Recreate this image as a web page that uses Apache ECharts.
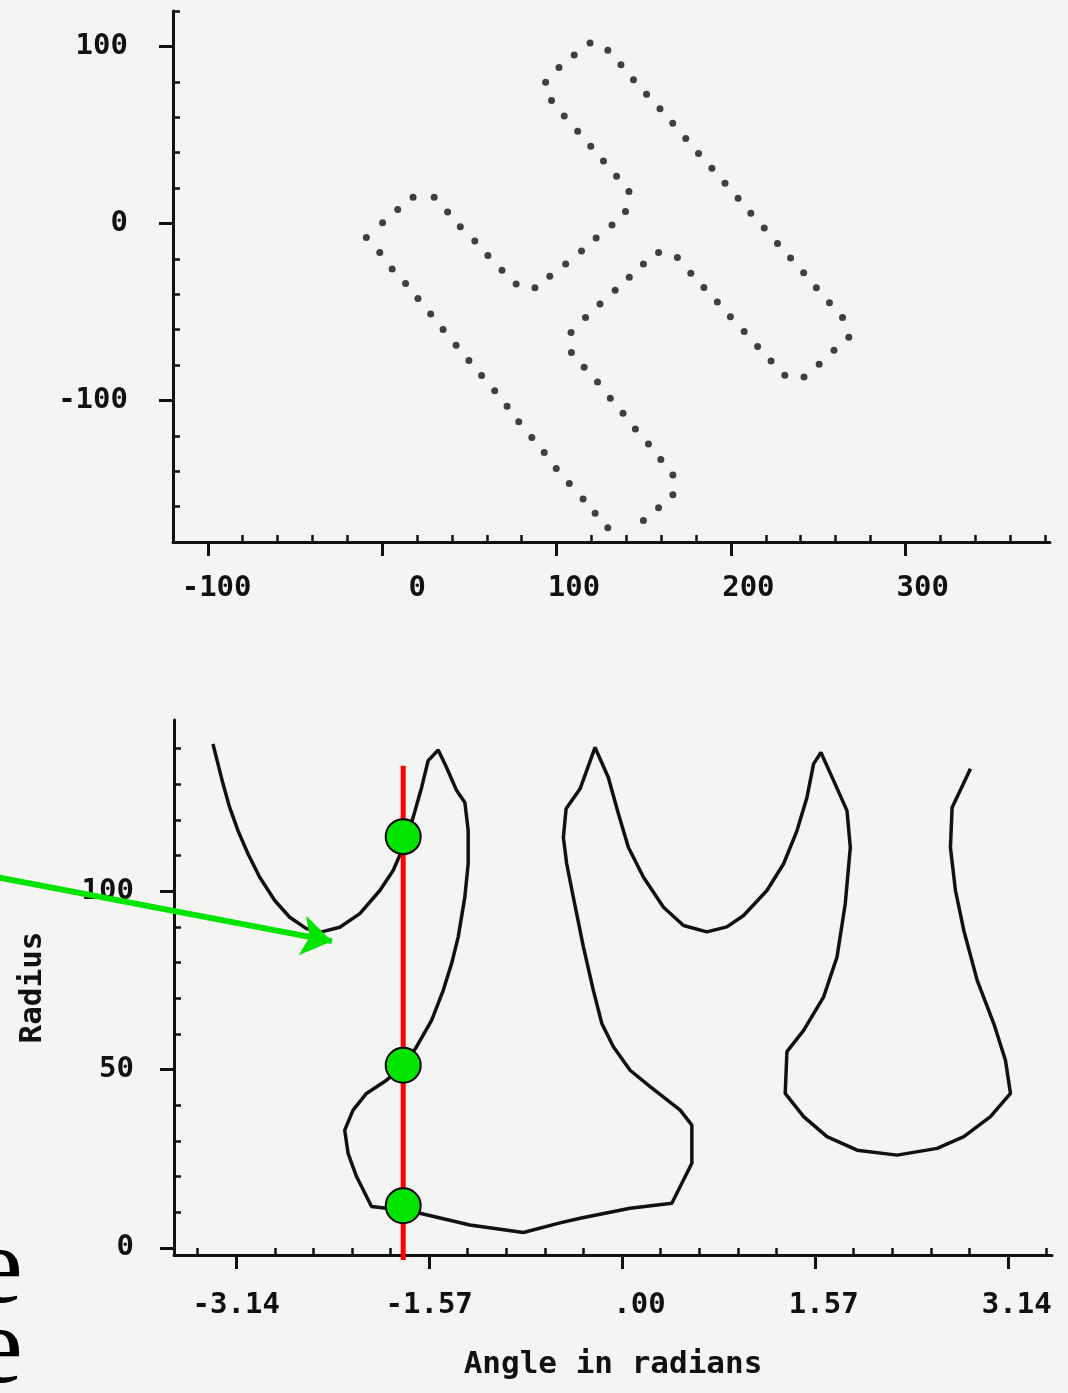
<!DOCTYPE html>
<html>
<head>
<meta charset="utf-8">
<script src="https://cdn.jsdelivr.net/npm/echarts@6/dist/echarts.min.js"></script>
<style>
  html, body { margin: 0; padding: 0; background: #f4f4f2; }
  #chart { width: 1068px; height: 1393px; }
</style>
</head>
<body>
<div id="chart"></div>
<script>
// top plot: dotted outline of the shape (x, y)
const shapeX = [93.7, 101.4, 110.1, 119.2, 129.4, 136.9, 144.1, 151.6, 159.3, 166.6, 174.1, 181.4, 189.1, 196.6,
  204.1, 211.4, 219.1, 226.7, 234.2, 241.7, 249.0, 256.5, 264.0, 267.6, 259.1, 250.6, 241.9, 230.9, 223.0, 215.3,
  207.6, 199.7, 192.2, 184.5, 177.0, 169.3, 158.5, 149.8, 141.7, 133.6, 124.9, 116.6, 108.3, 108.5, 115.8, 123.5,
  130.8, 138.1, 145.2, 152.7, 159.8, 166.7, 166.7, 158.5, 149.8, 129.4, 122.1, 115.2, 107.3, 99.8, 92.9, 85.8,
  78.3, 71.6, 64.5, 57.0, 49.7, 42.4, 34.9, 27.8, 20.5, 13.4, 5.7, -1.4, -9.1, 0.2, 8.9, 17.7, 29.8, 37.5, 44.8,
  53.1, 60.6, 68.7, 76.8, 87.6, 96.1, 105.2, 114.3, 122.7, 131.8, 139.5, 141.5, 134.4, 126.9, 119.6, 112.1, 104.4, 97.1];
const shapeY = [79.8, 88.1, 95.2, 101.9, 97.8, 89.6, 81.1, 72.9, 64.8, 56.6, 48.0, 39.5, 31.1, 22.7,
  14.2, 5.8, -2.6, -11.3, -19.5, -27.9, -36.4, -44.8, -53.2, -64.3, -71.6, -79.6, -86.8, -85.8, -77.8, -69.5,
  -61.1, -52.7, -44.4, -36.2, -28.1, -19.3, -16.5, -22.9, -30.4, -37.7, -45.5, -53.2, -61.7, -72.9, -81.3, -89.6,
  -98.8, -107.2, -116.2, -124.6, -133.4, -142.2, -153.3, -160.6, -167.9, -172.0, -163.8, -155.7, -146.9, -138.5, -129.5, -120.9,
  -112.1, -103.3, -94.6, -86.0, -77.4, -68.8, -60.0, -51.2, -42.4, -33.9, -25.7, -16.5, -7.9, 0.4, 7.9, 14.8, 14.8, 6.4, -1.9,
  -9.9, -18.2, -26.4, -34.3, -36.4, -29.8, -22.9, -15.6, -8.3, -0.9, 6.7, 18.0, 26.6, 35.2, 43.6, 52.1, 60.7, 69.5];
const shapeTicks = [-100, 0, 100, 200, 300];
const shapeMinorTicks = [-120, -80, -60, -40, -20, 20, 40, 60, 80, 120, 140, 160, 180, 220, 240, 260, 280, 320, 340, 360, 380];
const shapeYTicks = [-100, 0, 100];
const shapeYMinorTicks = [-180, -160, -140, -120, -80, -60, -40, -20, 20, 40, 60, 80, 120];

// bottom plot: radius against angle, traced in order
const angle = [-3.331, -3.290, -3.249, -3.195, -3.127, -3.046, -2.950, -2.828, -2.706, -2.570, -2.447, -2.298,
  -2.135, -1.972, -1.864, -1.782, -1.701, -1.632, -1.579, -1.497, -1.429, -1.347, -1.280, -1.253, -1.253, -1.280,
  -1.334, -1.388, -1.456, -1.551, -1.673, -1.782, -1.918, -2.081, -2.190, -2.258, -2.231, -2.162, -2.040, -1.918,
  -1.646, -1.239, -0.804, -0.505, -0.342, 0.065, 0.405, 0.568, 0.568, 0.473, 0.228, 0.065, -0.071, -0.165, -0.234,
  -0.315, -0.397, -0.451, -0.478, -0.456, -0.342, -0.220, -0.112, -0.030, 0.051, 0.174, 0.337, 0.500, 0.690, 0.853,
  0.989, 1.179, 1.315, 1.424, 1.505, 1.559, 1.619, 1.722, 1.831, 1.858, 1.817, 1.750, 1.641, 1.478, 1.342, 1.328,
  1.478, 1.668, 1.913, 2.239, 2.565, 2.782, 2.999, 3.162, 3.121, 3.026, 2.891, 2.782, 2.714, 2.673, 2.687, 2.836];
const radius = [141.3, 135.7, 130.1, 123.5, 117.0, 110.5, 103.9, 97.4, 92.7, 89.5, 88.6, 89.9,
  93.7, 100.2, 105.8, 112.3, 120.7, 129.1, 136.6, 139.6, 134.7, 128.2, 124.9, 117.0, 107.7, 98.4,
  87.2, 79.7, 72.2, 63.8, 56.4, 50.8, 47.0, 43.3, 38.6, 33.0, 26.5, 20.0, 11.6, 11.1,
  9.7, 6.4, 4.3, 7.0, 8.3, 11.1, 12.5, 23.7, 34.4, 38.6, 45.2, 49.8, 56.4, 62.9, 72.2,
  84.4, 98.3, 107.7, 115.1, 123.1, 128.7, 140.3, 131.9, 121.7, 112.3, 103.9, 95.5, 90.4, 88.6, 90.0,
  93.2, 100.2, 107.7, 117.0, 126.3, 135.7, 138.9, 131.0, 122.6, 112.3, 96.5, 81.6, 70.4, 61.0, 55.0, 43.3,
  36.8, 31.2, 27.4, 26.0, 27.9, 31.2, 36.8, 43.3, 52.6, 62.9, 75.0, 89.0, 100.2, 112.3, 123.5, 134.3];
const angleTicks = [-3.14159, -1.5708, 0, 1.5708, 3.14159];
const angleTickLabels = ['-3.14', '-1.57', '.00', '1.57', '3.14'];
const angleMinorTicks = [-3.456, -2.827, -2.513, -2.199, -1.885, -1.257, -0.942, -0.628, -0.314,
  0.314, 0.628, 0.942, 1.257, 1.885, 2.199, 2.513, 2.827, 3.456];
const radiusTicks = [0, 50, 100];
const radiusMinorTicks = [10, 20, 30, 40, 60, 70, 80, 90, 110, 120, 130, 140];

// annotation overlay (red cut line, green hits, green arrow)
const cutAngle = -1.782;
const cutRange = [-3.4, 135.2];
const hitRadius = [115.3, 51.2, 11.8];
const arrowFrom = [-5.069, 103.8];
const arrowTo = [-2.363, 86.0];

const ink = '#111';
const font = 'DejaVu Sans Mono';
const labelStyle = { color: ink, fontFamily: font, fontWeight: 'bold', fontSize: 29 };

function majorAxis(grid, min, max, ticks, fmt, margin, pos) {
    return {
        gridIndex: grid, type: 'value', position: pos, min, max,
        axisLine: { onZero: false, lineStyle: { color: ink, width: 3 } },
        axisTick: { customValues: ticks, length: 14, lineStyle: { color: ink, width: 3 } },
        axisLabel: { customValues: ticks, formatter: fmt, margin, ...labelStyle },
        splitLine: { show: false }
    };
}
function minorAxis(grid, min, max, ticks, pos) {
    return {
        gridIndex: grid, type: 'value', position: pos, min, max,
        axisLine: { show: false, onZero: false },
        axisTick: { customValues: ticks, inside: true, length: 7, lineStyle: { color: ink, width: 2.5 } },
        axisLabel: { show: false },
        splitLine: { show: false }
    };
}

const pad5 = s => String(s).padStart(5, ' ');

const chart = echarts.init(document.getElementById('chart'));
chart.setOption({
    animation: false,
    backgroundColor: '#f4f4f2',
    grid: [
        { left: 173, top: 11, width: 877, height: 531 },
        { left: 174, top: 720, width: 878, height: 535 }
    ],
    xAxis: [
        majorAxis(0, -120, 383, shapeTicks, v => pad5(v), 32, 'bottom'),
        minorAxis(0, -120, 383, shapeMinorTicks, 'bottom'),
        Object.assign(majorAxis(1, -3.648, 3.5, angleTicks,
            v => pad5(angleTickLabels[angleTicks.indexOf(v)] ?? ''), 36, 'bottom'), {
            name: 'Angle in radians',
            nameLocation: 'middle',
            nameGap: 94,
            nameTextStyle: { ...labelStyle, fontSize: 31 }
        }),
        minorAxis(1, -3.648, 3.5, angleMinorTicks, 'bottom')
    ],
    yAxis: [
        majorAxis(0, -180, 120, shapeYTicks, v => String(v), 45, 'left'),
        minorAxis(0, -180, 120, shapeYMinorTicks, 'left'),
        Object.assign(majorAxis(1, -2, 148, radiusTicks, v => String(v), 40, 'left'), {
            name: 'Radius',
            nameLocation: 'middle',
            nameGap: 126,
            nameTextStyle: { ...labelStyle, fontSize: 31 }
        }),
        minorAxis(1, -2, 148, radiusMinorTicks, 'left')
    ],
    series: [
        {
            type: 'scatter', xAxisIndex: 0, yAxisIndex: 0,
            data: shapeX.map((x, i) => [x, shapeY[i]]),
            symbolSize: 7,
            itemStyle: { color: ink }
        },
        {
            type: 'line', xAxisIndex: 2, yAxisIndex: 2,
            data: angle.map((a, i) => [a, radius[i]]),
            showSymbol: false,
            lineStyle: { color: ink, width: 3.5 }
        },
        {
            type: 'line', xAxisIndex: 2, yAxisIndex: 2, clip: false, z: 5,
            data: cutRange.map(r => [cutAngle, r]),
            showSymbol: false,
            lineStyle: { color: '#ff0000', width: 5 }
        },
        {
            type: 'lines', coordinateSystem: 'cartesian2d', xAxisIndex: 2, yAxisIndex: 2,
            clip: false, z: 6, silent: true,
            symbol: ['none', 'arrow'],
            symbolSize: 30,
            lineStyle: { color: '#00e400', width: 6, opacity: 1 },
            data: [{ coords: [arrowFrom, arrowTo] }]
        },
        {
            type: 'scatter', xAxisIndex: 2, yAxisIndex: 2, clip: false, z: 7,
            data: hitRadius.map(r => [cutAngle, r]),
            symbolSize: 35,
            itemStyle: { color: '#00e400', borderColor: '#000', borderWidth: 2, opacity: 1 }
        }
    ],
    graphic: [
        { type: 'text', left: -26, top: 1218, style: { text: 'e', font: '110px "Liberation Serif"', fill: '#000' } },
        { type: 'text', left: -26, top: 1298, style: { text: 'e', font: '110px "Liberation Serif"', fill: '#000' } }
    ]
});
</script>
</body>
</html>
